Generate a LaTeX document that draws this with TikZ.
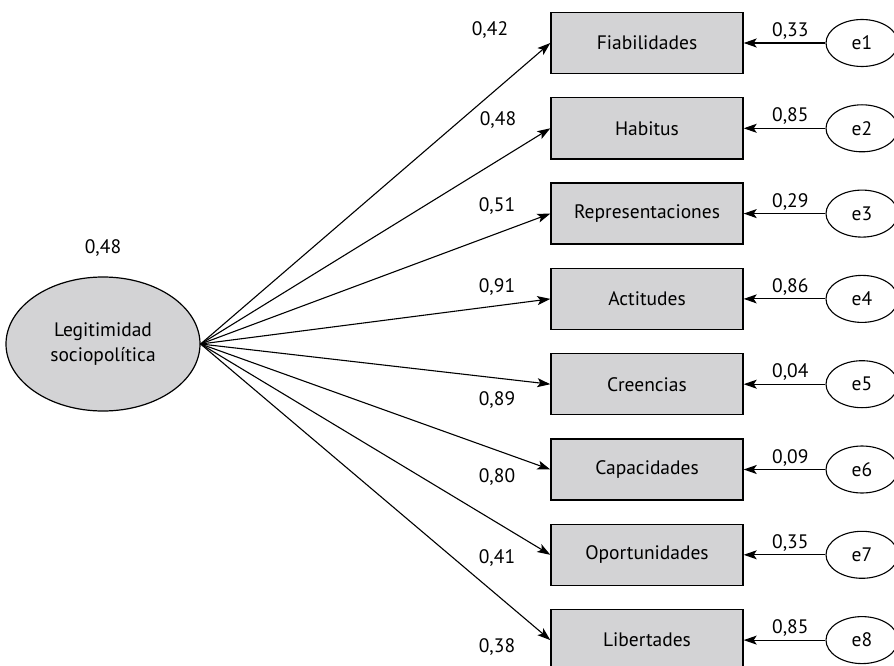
\documentclass[tikz,border=0pt]{standalone}
\usepackage{fontspec}
\setmainfont{PT Sans}
\usepackage{tikz}
\usetikzlibrary{calc}
\usetikzlibrary{arrows.meta}
\usetikzlibrary{shapes.geometric, positioning}
\definecolor{boxgray}{RGB}{211,211,213}
\tikzset{
  txt/.style={font=\fontsize{19.5}{25}\selectfont},
  indicator/.style={txt, draw, line width=1.4pt, fill=boxgray,
      minimum width=192pt, minimum height=61pt, inner sep=0pt},
  latent/.style={txt, ellipse, draw, line width=1.2pt, fill=boxgray,
      minimum width=194pt, minimum height=134pt, align=center, inner sep=0pt},
  errvar/.style={txt, ellipse, draw, line width=1.1pt, fill=white,
      minimum width=72pt, minimum height=47pt, inner sep=0pt},
  coef/.style={txt, inner sep=1pt},
  regpath/.style={line width=1.1pt, -{Stealth[length=13pt,width=9pt,inset=3pt]}},
}

\begin{document}
\begin{tikzpicture}[x=1pt,y=-1pt]
      \useasboundingbox (0,0) rectangle (894,666);

      \node [latent] (lat) at (103,344) {Legitimidad\\sociopolítica};
      \node [coef] (var) at (103,248) {0,48};

      \foreach \i/\name/\lam/\lx/\dy/\err in {
          1/Fiabilidades/{0,42}/490/-13/{0,33},
          2/Habitus/{0,48}/498/-8/{0,85},
          3/Representaciones/{0,51}/497/-8/{0,29},
          4/Actitudes/{0,91}/497/-12/{0,86},
          5/Creencias/{0,89}/497/16/{0,04},
          6/Capacidades/{0,80}/497/8/{0,09},
          7/Oportunidades/{0,41}/497/3/{0,35},
          8/Libertades/{0,38}/497/7/{0,85}}{
          \node [indicator] (b\i) at (647,{43+85.3*(\i-1)}) {\name};
          \node [errvar] (e\i) at (862,{43+85.3*(\i-1)}) {e\i};
          \node [coef] (l\i) at (\lx,{43+85.3*(\i-1)+\dy}) {\lam};
          \draw [regpath] (lat.east) -- (b\i.west);
          \draw [regpath] (e\i) -- node [coef, above=2pt, pos=0.43] {\err} (b\i);
        }
    \end{tikzpicture}
\end{document}
